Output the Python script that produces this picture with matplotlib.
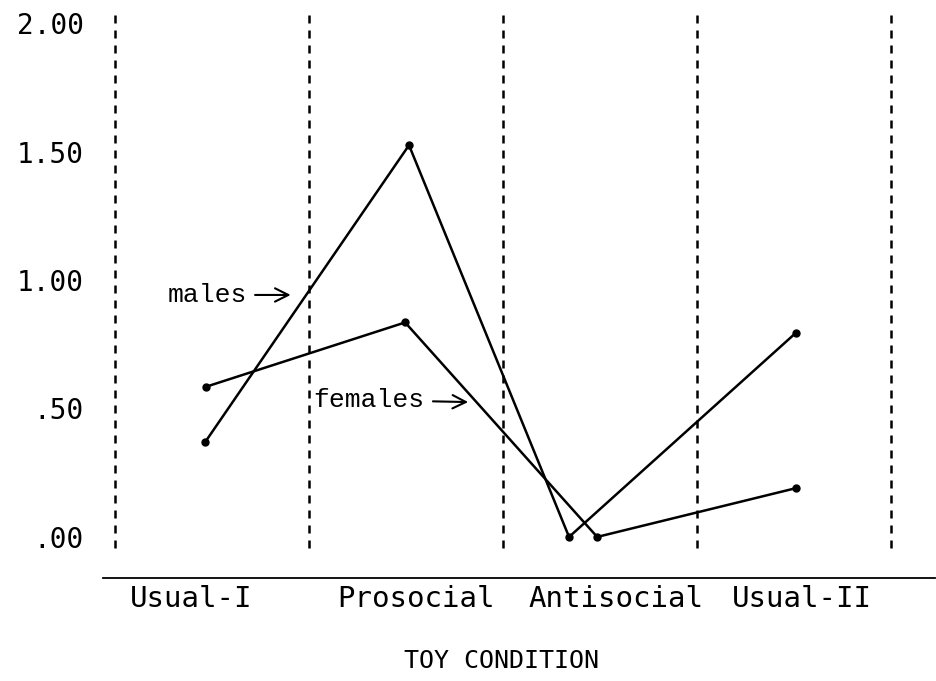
import matplotlib
matplotlib.use('Agg')
import matplotlib.pyplot as plt

# toy conditions and mean scores
conditions = ['Usual-I', 'Prosocial', 'Antisocial', 'Usual-II']
males = [0.37, 1.525, 0.0, 0.795]
females = [0.585, 0.835, 0.0, 0.19]
# horizontal position of each point inside its condition band
males_x = [0.465, 1.515, 2.34, 3.51]
females_x = [0.47, 1.495, 2.485, 3.51]
y_ticks = [0.0, 0.5, 1.0, 1.5, 2.0]
y_tick_labels = ['.00', '.50', '1.00', '1.50', '2.00']

mono = 'DejaVu Sans Mono'

fig = plt.figure(figsize=(9.37, 6.81), dpi=100)
ax = fig.add_axes([0.110, 0.1512, 0.888, 0.834])
ax.set_xlim(-0.062, 4.227)
ax.set_ylim(-0.160, 2.051)

# dashed band separators
for b in range(len(conditions) + 1):
    ax.plot([b, b], [-0.043, 2.05], color='black', lw=1.8,
            linestyle=(0, (3.2, 2.8)))

ax.plot(males_x, males, color='black', lw=1.8, marker='o', ms=5)
ax.plot(females_x, females, color='black', lw=1.8, marker='o', ms=5)

ax.annotate('males', xy=(0.905, 0.942), xytext=(0.474, 0.942),
            ha='center', va='center', fontsize=19, family='Liberation Mono',
            arrowprops=dict(arrowstyle='->', lw=1.5, color='black',
                            shrinkA=4, shrinkB=0, mutation_scale=24))
ax.annotate('females', xy=(1.82, 0.525), xytext=(1.309, 0.533),
            ha='center', va='center', fontsize=19, family='Liberation Mono',
            arrowprops=dict(arrowstyle='->', lw=1.5, color='black',
                            shrinkA=4, shrinkB=0, mutation_scale=24))

for s in ['top', 'left', 'right']:
    ax.spines[s].set_visible(False)
ax.spines['bottom'].set_linewidth(1.3)

ax.set_yticks(y_ticks)
ax.set_yticklabels(y_tick_labels, fontsize=20, family=mono)
label_x = [0.394, 1.552, 2.582, 3.541]
ax.set_xticks(label_x)
ax.set_xticklabels(conditions, fontsize=21, family=mono)
ax.tick_params(axis='y', length=0, pad=14)
ax.tick_params(axis='x', length=0, pad=5)

fig.text(502 / 937, 1 - 661 / 681, 'TOY CONDITION', ha='center', va='center',
         fontsize=18, family=mono)

fig.savefig('out.png', dpi=100)
